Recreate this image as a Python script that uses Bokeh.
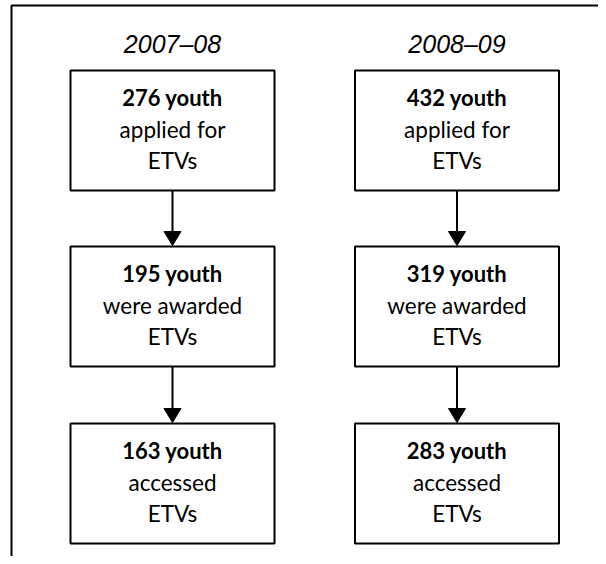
from bokeh.plotting import figure
from bokeh.models import Range1d
from bokeh.core.properties import value
from bokeh.embed import file_html
from bokeh.resources import INLINE

# ---- data ----
periods = ["2007\u201308", "2008\u201309"]
applied = [276, 432]
awarded = [195, 319]
accessed = [163, 283]
stage_counts = [applied, awarded, accessed]
stage_text = [["applied for", "ETVs"], ["were awarded", "ETVs"], ["accessed", "ETVs"]]

# ---- layout (canvas pixels, y downward) ----
W, H = 598, 556
col_cx = [172, 456.5]
box_w = 204
box_h = 120
box_top = [70, 246, 423]
title_y = 43
line_offsets = [27, 58.5, 90]

p = figure(width=W, height=H, x_range=Range1d(0, W), y_range=Range1d(H, 0),
           output_backend="svg", toolbar_location=None, min_border=0)
p.axis.visible = False
p.grid.visible = False
p.outline_line_color = None
p.background_fill_color = "white"

# outer frame (left and top visible)
p.line([11, 11, W + 5], [H + 5, 5, 5], line_color="black", line_width=2)

# titles
p.text(x=col_cx, y=[title_y] * 2, text=periods, text_align="center", text_baseline="middle",
       text_font=value("Liberation Sans"), text_font_style="italic", text_font_size="25px",
       text_color="black")

for ci, cx in enumerate(col_cx):
    for si in range(3):
        top = box_top[si]
        p.quad(left=cx - box_w / 2, right=cx + box_w / 2, top=top, bottom=top + box_h,
               fill_color="white", line_color="black", line_width=2)
        lines = [f"{stage_counts[si][ci]} youth"] + stage_text[si]
        p.text(x=[cx], y=[top + line_offsets[0]], text=[lines[0]], text_align="center",
               text_baseline="middle", text_font=value("Lato"), text_font_style="bold",
               text_font_size="22px", text_color="black")
        p.text(x=[cx, cx], y=[top + line_offsets[1], top + line_offsets[2]], text=lines[1:],
               text_align="center", text_baseline="middle", text_font=value("Lato"),
               text_font_size="22.5px", text_color="black")
        if si < 2:
            y0 = top + box_h
            y1 = box_top[si + 1]
            p.line([cx, cx], [y0, y1 - 14], line_color="black", line_width=2)
            p.patch([cx - 8.5, cx + 8.5, cx], [y1 - 15, y1 - 15, y1 - 1], fill_color="black",
                    line_color="black", line_width=1)

open("out.html", "w").write(file_html(p, INLINE))
